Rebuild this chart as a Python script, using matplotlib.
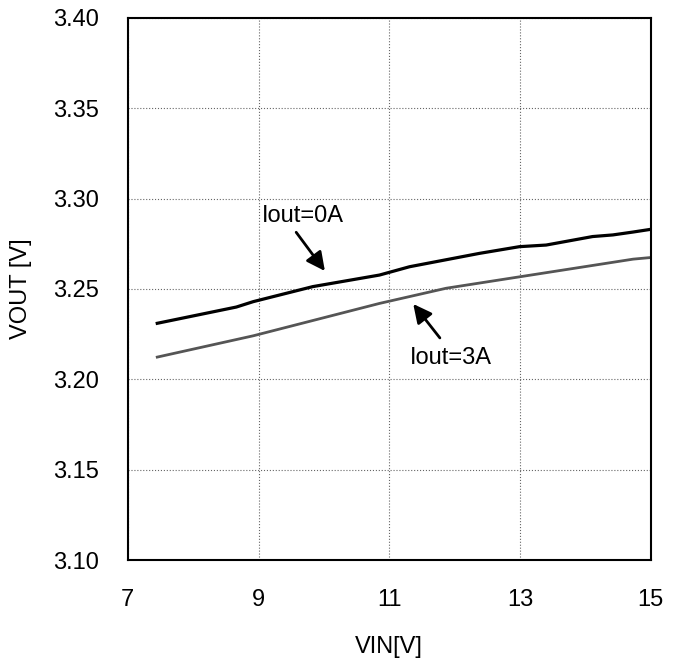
import matplotlib.pyplot as plt

plt.rcParams['font.family'] = ['Liberation Sans', 'DejaVu Sans']

# VIN [V] vs VOUT [V]
vin_0a = [7.45, 8.66, 8.92, 9.83, 10.85, 11.31, 12.38, 12.99, 13.40, 14.11, 14.42, 14.73, 15.0]
vout_0a = [3.231, 3.240, 3.243, 3.2513, 3.2577, 3.2623, 3.2697, 3.2734, 3.2743, 3.279, 3.2799, 3.2815, 3.2830]

vin_3a = [7.45, 8.92, 10.85, 11.87, 14.73, 15.0]
vout_3a = [3.2123, 3.2241, 3.242, 3.2504, 3.2665, 3.2674]

fig = plt.figure(figsize=(6.8, 6.62), dpi=100)
ax = fig.add_axes([0.188, 0.154, 0.769, 0.819])

ax.plot(vin_0a, vout_0a, color='black', lw=2.3)
ax.plot(vin_3a, vout_3a, color='#555555', lw=2.0)

ax.set_xlim(7, 15)
ax.set_ylim(3.10, 3.40)
ax.set_xticks([7, 9, 11, 13, 15])
ax.set_yticks([3.10, 3.15, 3.20, 3.25, 3.30, 3.35, 3.40])
ax.set_yticklabels([f'{v:.2f}' for v in ax.get_yticks()])
ax.tick_params(length=0, pad=21, labelsize=17)
ax.grid(True, color='#666666', ls=':', lw=0.8)
for s in ax.spines.values():
    s.set_linewidth(1.5)

ax.set_xlabel('VIN[V]', fontsize=17, labelpad=18)
ax.set_ylabel('VOUT [V]', fontsize=17, labelpad=15)

arrow = dict(arrowstyle='-|>', color='black', lw=2, mutation_scale=28)
ax.annotate('', xy=(10.04, 3.2587), xytext=(9.55, 3.2826), arrowprops=arrow)
ax.annotate('', xy=(11.34, 3.2429), xytext=(11.80, 3.2217), arrowprops=arrow)
ax.text(9.05, 3.2905, 'Iout=0A', fontsize=17, va='center', ha='left')
ax.text(11.31, 3.2120, 'Iout=3A', fontsize=17, va='center', ha='left')

plt.savefig('out.png')
